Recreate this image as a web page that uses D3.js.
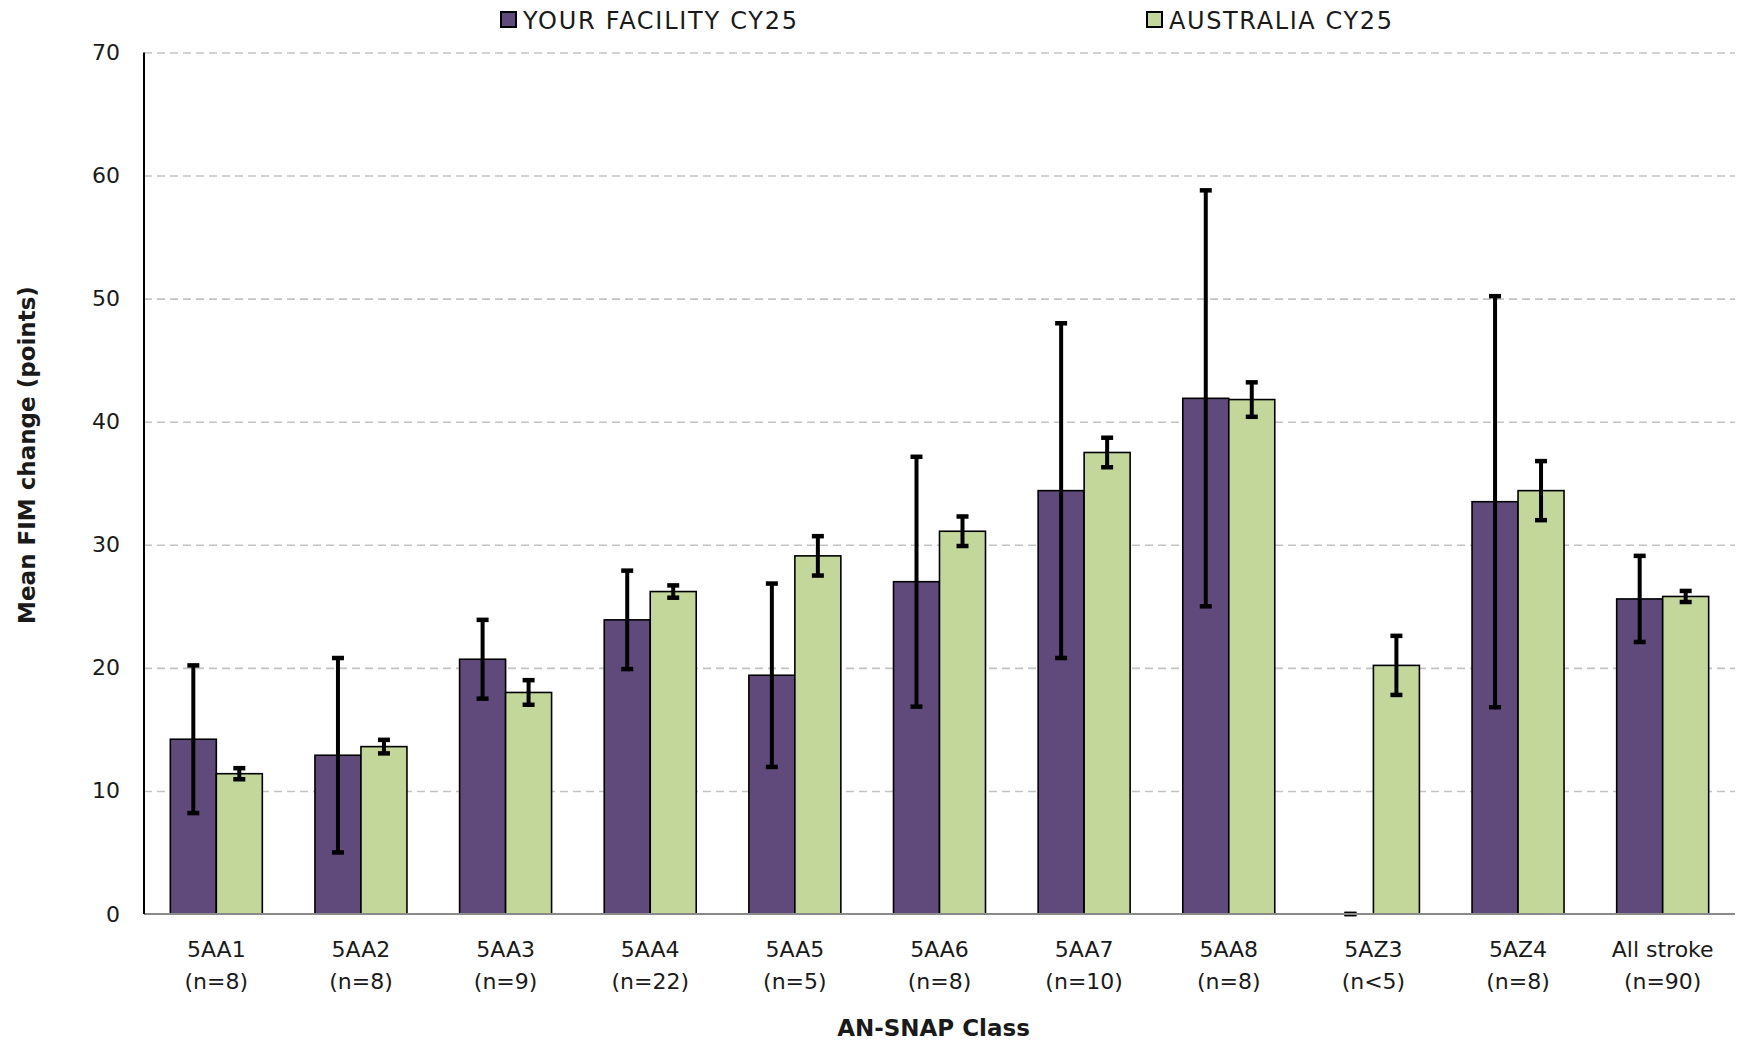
<!DOCTYPE html>
<html><head><meta charset="utf-8">
<script src="https://cdn.jsdelivr.net/npm/d3@7"></script>
<style>
html,body{margin:0;padding:0;background:#fff;}
svg text{font-family:"DejaVu Sans","Noto Sans",sans-serif;fill:#1a1a1a;}
</style></head>
<body>
<svg id="chart" width="1738" height="1043"></svg>
<script>
const categories = ["5AA1","5AA2","5AA3","5AA4","5AA5","5AA6","5AA7","5AA8","5AZ3","5AZ4","All stroke"];
const categoryN = ["(n=8)","(n=8)","(n=9)","(n=22)","(n=5)","(n=8)","(n=10)","(n=8)","(n<5)","(n=8)","(n=90)"];
const seriesNames = ["YOUR FACILITY CY25","AUSTRALIA CY25"];
const facilityValues = [14.2, 12.9, 20.7, 23.9, 19.4, 27.0, 34.4, 41.9, 0, 33.5, 25.6];
const facilityErrors = [6.0, 7.9, 3.2, 4.0, 7.45, 10.15, 13.6, 16.9, 0, 16.7, 3.5];
const australiaValues = [11.4, 13.6, 18.0, 26.2, 29.1, 31.1, 37.5, 41.8, 20.2, 34.4, 25.8];
const australiaErrors = [0.45, 0.55, 1.0, 0.5, 1.6, 1.2, 1.2, 1.4, 2.4, 2.4, 0.45];
const yTicks = [0,10,20,30,40,50,60,70];

const colors = ["#604A7B","#C4D79B"];
const svg = d3.select("#chart");
const L = 144, R = 1735, T = 52.5, B = 914;

const x0 = d3.scaleBand().domain(categories).range([L, R]).paddingInner(0.364).paddingOuter(0.182);
const x1 = d3.scaleBand().domain([0,1]).range([0, x0.bandwidth()]);
const y = d3.scaleLinear().domain([0,70]).range([B, T]);

// gridlines
const grid = svg.append("g").attr("transform",`translate(${L},0)`)
  .call(d3.axisLeft(y).tickValues(yTicks.filter(d=>d>0)).tickSize(-(R-L)).tickFormat(""));
grid.select(".domain").remove();
grid.selectAll("line").attr("stroke","#c3c3c3").attr("stroke-width",1.6).attr("stroke-dasharray","8,5");

// y tick labels
const yAxis = svg.append("g").attr("transform",`translate(${L},0)`)
  .call(d3.axisLeft(y).tickValues(yTicks).tickSize(0).tickPadding(24).tickFormat(d3.format("d")));
yAxis.select(".domain").remove();
yAxis.selectAll("text").attr("font-size",22).attr("fill","#1a1a1a")
  .style("font-family","'DejaVu Sans',sans-serif");

const data = categories.map((c,i)=>({c, vals:[
  {s:0, v:facilityValues[i], e:facilityErrors[i]},
  {s:1, v:australiaValues[i], e:australiaErrors[i]}]}));

const groups = svg.append("g").selectAll("g").data(data).join("g")
  .attr("transform", d=>`translate(${x0(d.c)},0)`);

groups.selectAll("rect").data(d=>d.vals.filter(v=>v.v>0)).join("rect")
  .attr("x", d=>x1(d.s)).attr("width", x1.bandwidth())
  .attr("y", d=>y(d.v)).attr("height", d=>y(0)-y(d.v))
  .attr("fill", d=>colors[d.s]).attr("stroke","#000").attr("stroke-width",1.6);

// error bars
const eb = groups.selectAll("g.err").data(d=>d.vals).join("g").attr("class","err");
const capW = 12;
eb.append("line")
  .attr("x1", d=>x1(d.s)+x1.bandwidth()/2).attr("x2", d=>x1(d.s)+x1.bandwidth()/2)
  .attr("y1", d=>y(d.v+d.e)).attr("y2", d=>y(Math.max(0,d.v-d.e)))
  .attr("stroke","#000").attr("stroke-width",4);
eb.append("line")
  .attr("x1", d=>x1(d.s)+x1.bandwidth()/2-capW/2).attr("x2", d=>x1(d.s)+x1.bandwidth()/2+capW/2)
  .attr("y1", d=>y(d.v+d.e)).attr("y2", d=>y(d.v+d.e))
  .attr("stroke","#000").attr("stroke-width",4.5);
eb.append("line")
  .attr("x1", d=>x1(d.s)+x1.bandwidth()/2-capW/2).attr("x2", d=>x1(d.s)+x1.bandwidth()/2+capW/2)
  .attr("y1", d=>y(Math.max(0,d.v-d.e))).attr("y2", d=>y(Math.max(0,d.v-d.e)))
  .attr("stroke","#000").attr("stroke-width",4.5);

// axes lines
svg.append("line").attr("x1",L).attr("x2",R).attr("y1",B).attr("y2",B)
  .attr("stroke","#8a8a8a").attr("stroke-width",2);
svg.append("line").attr("x1",L).attr("x2",L).attr("y1",T).attr("y2",B)
  .attr("stroke","#000").attr("stroke-width",2);

// category labels
const xl = svg.append("g").selectAll("text").data(categories).join("text")
  .attr("x", d=>x0(d)+x0.bandwidth()/2).attr("text-anchor","middle")
  .attr("font-size",22);
xl.append("tspan").attr("x", d=>x0(d)+x0.bandwidth()/2).attr("y",957).text(d=>d);
xl.append("tspan").attr("x", d=>x0(d)+x0.bandwidth()/2).attr("y",989).text((d,i)=>categoryN[i]);

// axis titles
svg.append("text").attr("x",(L+R)/2 - 6).attr("y",1036).attr("text-anchor","middle")
  .attr("font-size",23).attr("font-weight","600").text("AN-SNAP Class");
svg.append("text").attr("transform","translate(35,455) rotate(-90)").attr("text-anchor","middle")
  .attr("font-size",23).attr("font-weight","600").text("Mean FIM change (points)");

// legend
const legX = [501, 1147];
const legW = [274, 223];
const leg = svg.append("g").selectAll("g").data(seriesNames).join("g")
  .attr("transform",(d,i)=>`translate(${legX[i]},12)`);
leg.append("rect").attr("width",15).attr("height",15).attr("fill",(d,i)=>colors[i])
  .attr("stroke","#000").attr("stroke-width",2);
leg.append("text").attr("x",22).attr("y",16.5).attr("font-size",24)
  .attr("textLength",(d,i)=>legW[i]).attr("lengthAdjust","spacing").text(d=>d);
</script>
</body></html>
